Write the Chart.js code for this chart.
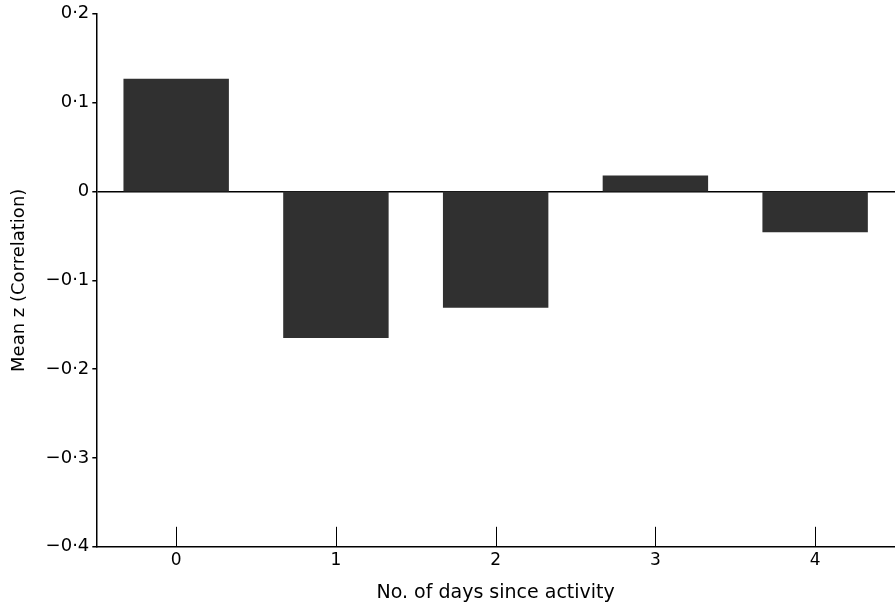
<!DOCTYPE html>
<html>
<head>
<meta charset="utf-8">
<script src="https://cdn.jsdelivr.net/npm/chart.js@4/dist/chart.umd.min.js"></script>
<style>
  html, body { margin: 0; padding: 0; background: #fff; }
  #wrap { width: 895px; height: 608px; }
</style>
</head>
<body>
<div id="wrap"><canvas id="chart" width="895" height="608"></canvas></div>
<script>
// Data
const days = ['0', '1', '2', '3', '4'];
const meanZ = [0.127, -0.165, -0.131, 0.018, -0.046];
const yMin = -0.4;
const yMax = 0.2;
const yStep = 0.1;

// Format like the printed figure: middle dot decimal, proper minus sign
function formatTick(v) {
    if (Math.abs(v) < 1e-9) return '0';
    const s = Math.abs(v).toFixed(1).replace('.', '\u00b7');
    return (v < 0 ? '\u2212' : '') + s;
}

// Short upward tick marks on the x axis, placed via the category scale
const upTicks = {
    id: 'upTicks',
    afterDraw(chart) {
        const x = chart.scales.x;
        const ctx = chart.ctx;
        ctx.save();
        ctx.strokeStyle = '#000';
        ctx.lineWidth = 1;
        days.forEach((d, i) => {
            const px = Math.round(x.getPixelForValue(i)) + 0.5;
            ctx.beginPath();
            ctx.moveTo(px, x.top);
            ctx.lineTo(px, x.top - 20);
            ctx.stroke();
        });
        ctx.restore();
    }
};

const font = "'DejaVu Sans', Arial, sans-serif";

new Chart(document.getElementById('chart').getContext('2d'), {
    type: 'bar',
    data: {
        labels: days,
        datasets: [{
            data: meanZ,
            backgroundColor: '#303030',
            borderWidth: 0,
            barPercentage: 0.66,
            categoryPercentage: 1.0
        }]
    },
    options: {
        responsive: false,
        animation: false,
        layout: {
            padding: { top: 9, right: 0, bottom: 4, left: 9 }
        },
        plugins: {
            legend: { display: false },
            tooltip: { enabled: false }
        },
        scales: {
            x: {
                grid: { display: false, drawTicks: false },
                border: { display: true, color: '#000', width: 1.5 },
                ticks: {
                    color: '#000',
                    padding: 4,
                    font: { family: font, size: 17 }
                },
                title: {
                    display: true,
                    text: 'No. of days since activity',
                    color: '#000',
                    padding: { top: 6, bottom: 0 },
                    font: { family: font, size: 19 }
                }
            },
            y: {
                min: yMin,
                max: yMax,
                grid: {
                    drawOnChartArea: true,
                    drawTicks: true,
                    tickLength: 4,
                    tickColor: '#000',
                    lineWidth: 1.5,
                    color: ctx => (ctx.tick && Math.abs(ctx.tick.value) < 1e-9) ? '#000' : 'rgba(0,0,0,0)'
                },
                border: { display: true, color: '#000', width: 1.5 },
                ticks: {
                    stepSize: yStep,
                    color: '#000',
                    padding: 3,
                    font: { family: font, size: 18 },
                    callback: v => formatTick(v)
                },
                title: {
                    display: true,
                    text: 'Mean z (Correlation)',
                    color: '#000',
                    padding: { top: 0, bottom: 12 },
                    font: { family: font, size: 18 }
                }
            }
        }
    },
    plugins: [upTicks]
});
</script>
</body>
</html>
